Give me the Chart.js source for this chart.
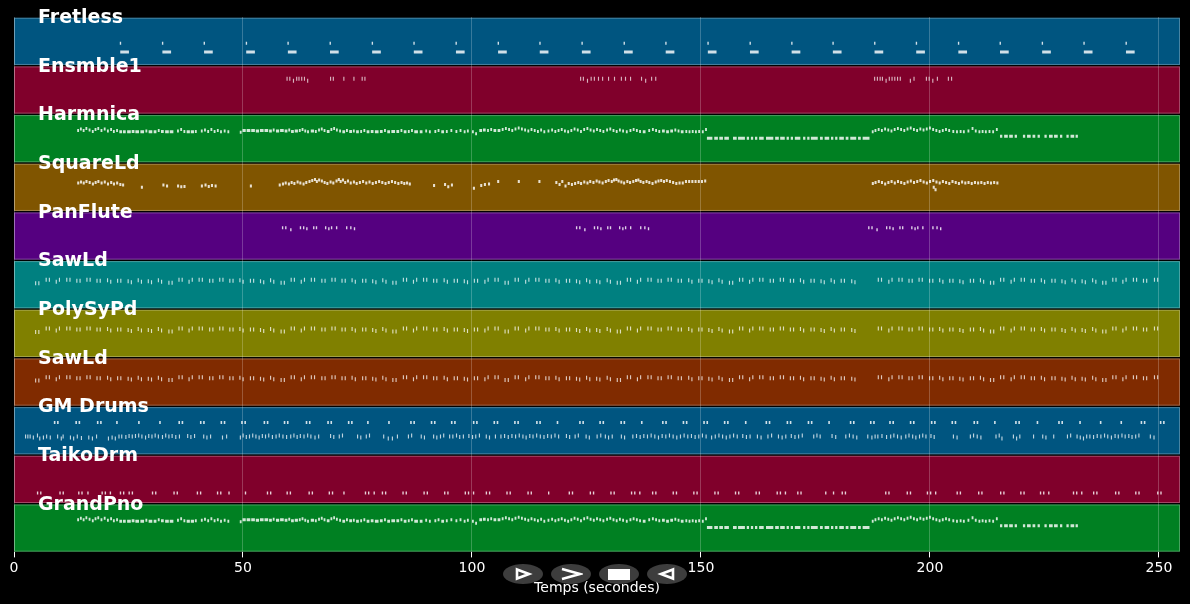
<!DOCTYPE html>
<html>
<head>
<meta charset="utf-8">
<script src="https://cdn.jsdelivr.net/npm/chart.js@4.4.1/dist/chart.umd.min.js"></script>
<style>
  html, body { margin: 0; padding: 0; background: #000; }
  #wrap { position: relative; width: 1190px; height: 604px; }
  #toolbar { position: absolute; left: 503px; top: 564px; display: flex; gap: 8px; }
  .btn { width: 40px; height: 20px; border-radius: 50%; background: rgba(66,66,66,0.92);
         display: flex; align-items: center; justify-content: center; }
</style>
</head>
<body>
<div id="wrap">
  <canvas id="rollChart" width="1190" height="604"></canvas>
  <div id="toolbar">
    <div class="btn"><svg width="20" height="14"><polygon points="4,2.5 16,7 4,11.5" fill="none" stroke="#fff" stroke-width="2.6"/></svg></div>
    <div class="btn"><svg width="24" height="14"><polyline points="3,2 21,7 3,12" fill="none" stroke="#fff" stroke-width="2.6"/></svg></div>
    <div class="btn"><svg width="22" height="12"><rect x="0" y="1" width="22" height="11" fill="#fff"/></svg></div>
    <div class="btn"><svg width="20" height="14"><polygon points="16,2.5 4,7 16,11.5" fill="none" stroke="#fff" stroke-width="2.6"/></svg></div>
  </div>
</div>
<script>
// tracks, top to bottom
var trackNames = ['Fretless', 'Ensmble1', 'Harmnica', 'SquareLd', 'PanFlute', 'SawLd', 'PolySyPd', 'SawLd', 'GM Drums', 'TaikoDrm', 'GrandPno'];
var trackColors = ['#005580', '#80002b', '#008022', '#805500', '#550080', '#008080', '#808000', '#802b00', '#005580', '#80002b', '#008022'];
var xTicks = [0, 50, 100, 150, 200, 250];
var xMax = 254.6;

// notes: [start (s), position in band (0 = top, 1 = bottom), duration (s)]
var fretlessNotes = [
  [23.1,.54,.3],[23.2,.72,1.9],[32.3,.54,.3],[32.4,.72,1.9],[41.4,.54,.3],[41.5,.72,1.9],[50.6,.54,.3],[50.7,.72,1.9],
  [59.7,.54,.3],[59.8,.72,1.9],[68.9,.54,.3],[69.0,.72,1.9],[78.1,.54,.3],[78.2,.72,1.9],[87.2,.54,.3],[87.3,.72,1.9],
  [96.4,.54,.3],[96.5,.72,1.9],[105.6,.54,.3],[105.7,.72,1.9],[114.7,.54,.3],[114.8,.72,1.9],[123.9,.54,.3],[124.0,.72,1.9],
  [133.1,.54,.3],[133.2,.72,1.9],[142.2,.54,.3],[142.3,.72,1.9],[151.4,.54,.3],[151.5,.72,1.9],[160.6,.54,.3],[160.7,.72,1.9],
  [169.7,.54,.3],[169.8,.72,1.9],[178.7,.54,.3],[178.8,.72,1.9],[187.8,.54,.3],[187.9,.72,1.9],[196.9,.54,.3],[197.0,.72,1.9],
  [206.1,.54,.3],[206.2,.72,1.9],[215.2,.54,.3],[215.3,.72,1.9],[224.4,.54,.3],[224.5,.72,1.9],[233.5,.54,.3],[233.6,.72,1.9],
  [242.7,.54,.3],[242.8,.72,1.9]
];

var ensembleNotes = [
  [59.5,.27],[60.1,.27],[60.9,.31],[61.6,.27],[62.1,.27],[62.7,.27],[63.3,.27],[64.0,.31],[69.0,.27],[69.6,.27],[71.9,.27],[74.1,.27],[75.9,.27],[76.5,.27],
  [123.6,.27],[124.2,.27],[125.1,.31],[125.9,.27],[126.6,.27],[127.5,.27],[128.4,.27],[129.7,.27],[131.0,.27],[132.5,.27],[133.4,.27],[134.5,.27],[136.9,.27],[137.8,.31],[139.1,.27],[140.0,.27],
  [187.8,.27],[188.4,.27],[189.0,.27],[189.5,.27],[190.3,.31],[191.0,.27],[191.6,.27],[192.2,.27],[192.8,.27],[193.4,.27],[195.6,.31],[196.4,.27],[199.1,.27],[199.7,.27],[200.5,.31],[201.5,.27],[203.9,.27],[204.6,.27]
];

// harmonica and grand piano play the same line
var melodyNotes = [
  [13.8,.33],[14.4,.30],[15.0,.33],[15.6,.29],[16.3,.32],[17.0,.35],[17.6,.31],[18.2,.29],[18.9,.33],[19.6,.30],[20.3,.34],[21.0,.31],[21.6,.35],[22.3,.33],
  [23.0,.36,.6],[23.8,.36,.6],[24.7,.36,.8],[25.7,.35,.6],[26.5,.36,.8],[27.6,.36,.8],[28.7,.34],[29.4,.36,.8],[30.5,.36,.6],[31.4,.33],[32.1,.35,.6],[33.0,.36,.8],[34.0,.36,.8],
  [35.6,.34],[36.3,.31],[37.0,.35],[37.7,.36,.7],[38.6,.36,.7],[39.5,.35],[40.8,.34],[41.5,.32],[42.2,.35],[42.9,.31],[43.6,.35],[44.3,.33],[45.0,.36],[45.8,.34],[46.6,.36],
  [49.3,.37],[49.9,.33,.7],[50.8,.33,.8],[51.8,.33,.8],[52.8,.34,.7],[53.7,.33,.8],[54.7,.33,.8],[55.7,.34,.6],[56.5,.32],[57.2,.34,.7],[58.1,.33,.8],[59.1,.34,.6],[59.9,.32],
  [60.5,.35,.6],[61.3,.34,.7],[62.2,.33],[62.8,.31],[63.4,.34],[64.0,.36],[64.8,.34,.7],[65.7,.35],[66.4,.32],[67.0,.30],[67.6,.33],[68.3,.35,.6],[69.1,.31],[69.7,.29],
  [70.3,.32],[71.0,.34],[71.7,.36,.6],[72.5,.33],[73.2,.35,.6],[74.0,.34],[74.7,.36,.6],[75.6,.35],[76.3,.33],[77.0,.36,.6],[77.9,.35,.6],[78.8,.36,.8],[79.9,.35,.6],
  [80.8,.33],[81.5,.36,.6],[82.4,.35,.8],[83.5,.35,.6],[84.4,.33],[85.1,.36,.6],[86.0,.35],[86.7,.33],[87.4,.36,.8],[88.6,.36,.6],[89.8,.34],[90.6,.36],[91.8,.35],
  [92.5,.33],[93.3,.36,.6],[94.3,.35],[95.3,.33],[96.4,.35],[97.3,.33],[98.2,.36],[98.9,.34],[100.0,.36],[100.7,.40],
  [101.6,.33,.6],[102.4,.32,.6],[103.3,.33],[104.0,.31],[104.7,.33,.6],[105.6,.33,.6],[106.5,.31],[107.2,.29],[107.9,.31],[108.6,.33],[109.3,.30],[110.0,.28],[110.7,.30],
  [111.4,.32],[112.1,.34],[112.8,.31],[113.5,.33],[114.2,.35],[114.9,.32],[115.6,.36],[116.5,.34],[117.3,.32],[118.0,.35],[118.7,.33],[119.4,.31],[120.1,.34],[120.8,.36],
  [121.5,.33],[122.2,.30],[122.9,.32],[123.6,.35],[124.3,.31],[125.0,.29],[125.7,.32],[126.4,.34],[127.1,.31],[127.8,.33],[128.5,.35],[129.3,.32],[130.0,.30],[130.7,.33],
  [131.4,.35],[132.1,.32],[132.8,.34],[133.6,.36],[134.4,.33],[135.1,.31],[135.8,.33],[136.5,.35],[137.3,.36,.6],[138.5,.33],[139.3,.31],[140.0,.33],[140.7,.35],
  [141.5,.34,.6],[142.4,.36,.6],[143.3,.34,.6],[144.2,.32],[144.9,.34],[145.6,.36,.6],[146.6,.35],[147.3,.36],[148.0,.35],[148.7,.36],[149.4,.35],[150.2,.36],[150.9,.31],
  [151.3,.49,1.2],[152.9,.49,.8],[154.0,.49,.8],[155.1,.49,1.0],[157.0,.49,.8],[158.1,.49,1.5],[160.0,.49,.5],[160.9,.49,.5],[161.8,.49,.5],[162.7,.49,1.0],
  [164.2,.49,1.6],[166.2,.49,.8],[167.3,.49,1.0],[168.7,.49,.5],[169.6,.49,.5],[170.5,.49,1.2],[172.3,.49,.5],[173.2,.49,.5],[174.0,.49,1.5],[176.0,.49,.6],
  [177.0,.49,1.0],[178.4,.49,.5],[179.3,.49,.5],[180.2,.49,1.0],[181.6,.49,.6],[182.6,.49,1.3],[184.3,.49,.6],[185.3,.49,1.5],
  [187.3,.36],[187.9,.33],[188.6,.31],[189.3,.33],[190.0,.30],[190.7,.32],[191.4,.34],[192.1,.31],[192.8,.29],[193.5,.31],[194.2,.33],[194.9,.30],[195.6,.28],
  [196.3,.31],[197.0,.33],[197.7,.30],[198.4,.32],[199.1,.30],[199.8,.28],[200.5,.31],[201.2,.33],[201.9,.35],[202.6,.33],[203.3,.31],[204.0,.33],[204.9,.35],
  [205.7,.36],[206.5,.35],[207.2,.36],[208.2,.34],[209.1,.29],[209.8,.34],[210.6,.36],[211.3,.35],[212.0,.36],[212.8,.35],[213.6,.36],[214.4,.31],
  [215.3,.45,.5],[216.2,.45,.8],[217.3,.45,.8],[218.5,.45,.5],[220.3,.45,.5],[221.2,.45,.8],[222.4,.45,.6],[223.5,.45,.5],[225.0,.45,.5],[226.0,.45,.8],
  [227.1,.45,.8],[228.4,.45,.5],[229.8,.45,.5],[230.7,.45,.8],[231.8,.45,.5]
];

var squareNotes = [
  [13.8,.41],[14.4,.39],[15.0,.41],[15.6,.38],[16.3,.40],[17.0,.43],[17.6,.40],[18.2,.38],[18.9,.41],[19.6,.39],[20.3,.43],[21.0,.40],[21.6,.43],[22.3,.41],[23.0,.44],[23.6,.45],
  [27.7,.50],[32.4,.45],[33.2,.47],[35.6,.47],[36.3,.49],[37.0,.48],[40.8,.47],[41.6,.45],[42.3,.48],[43.0,.46],[43.8,.47],[51.5,.47],
  [57.8,.45],[58.5,.43],[59.1,.41],[59.8,.43],[60.4,.40],[61.0,.42],[61.7,.39],[62.3,.41],[63.0,.43],[63.6,.40],[64.3,.38],[64.9,.36],[65.5,.34],[65.9,.38],[66.4,.35],
  [67.0,.37],[67.6,.40],[68.2,.42],[68.9,.39],[69.5,.41],[70.2,.37],[70.7,.34],[71.1,.38],[71.6,.35],[72.1,.40],[72.7,.37],[73.3,.41],[74.0,.39],[74.6,.42],[75.3,.40],
  [76.0,.38],[76.7,.41],[77.4,.39],[78.1,.42],[78.8,.40],[79.5,.38],[80.2,.40],[80.9,.42],[81.6,.40],[82.3,.38],[83.0,.40],[83.7,.42],[84.4,.40],[85.0,.42],[85.6,.41],[86.2,.43],
  [91.5,.46],[93.9,.44],[94.6,.49],[95.4,.45],[100.2,.52],[101.8,.46],[102.6,.44],[103.5,.43],[105.5,.38],[110.0,.38],[114.5,.38],
  [118.2,.40],[118.9,.44],[119.5,.38],[120.2,.47],[120.9,.42],[121.6,.44],
  [122.3,.42],[123.0,.40],[123.6,.42],[124.3,.39],[125.0,.41],[125.6,.38],[126.3,.40],[127.0,.37],[127.6,.39],[128.3,.41],[129.0,.38],[129.6,.36],[130.3,.38],[130.8,.35],
  [131.3,.34],[131.8,.37],[132.4,.39],[133.0,.41],[133.7,.38],[134.3,.40],[135.0,.38],[135.6,.36],[136.1,.35],[136.6,.38],[137.2,.40],[137.9,.38],[138.5,.40],[139.2,.42],
  [139.9,.39],[140.5,.37],[141.1,.36],[141.7,.38],[142.3,.36],[143.0,.38],[143.7,.40],[144.4,.42],[145.1,.41],[145.8,.41],[146.5,.38],[147.2,.38],[147.9,.38],[148.6,.38],
  [149.3,.38],[150.0,.38],[150.7,.37],
  [187.3,.42],[187.9,.40],[188.6,.38],[189.3,.40],[190.0,.43],[190.7,.40],[191.4,.38],[192.1,.41],[192.8,.38],[193.5,.40],[194.2,.42],[194.9,.39],[195.6,.37],[196.3,.40],
  [197.0,.38],[197.7,.36],[198.4,.39],[199.1,.41],[199.8,.38],[200.5,.36],[200.6,.50],[201.0,.55],[201.2,.39],[201.9,.41],[202.6,.38],[203.3,.40],[204.0,.42],[204.7,.38],
  [205.4,.40],[206.1,.42],[206.8,.39],[207.5,.41],[208.2,.40],[208.9,.42],[209.6,.40],[210.3,.41],[211.0,.40],[211.7,.42],[212.4,.40],[213.1,.41],[213.8,.40],[214.5,.41]
];

var panFluteNotes = [
  [58.5,.33],[59.2,.33],[60.3,.37],[62.4,.33],[63.1,.33],[63.8,.35],[65.3,.33],[65.9,.33],[67.9,.33],[68.6,.35],[69.2,.33],[70.3,.33],[72.5,.33],[73.4,.33],[74.2,.35],
  [122.7,.33],[123.4,.33],[124.5,.37],[126.6,.33],[127.3,.33],[128.0,.35],[129.5,.33],[130.1,.33],[132.1,.33],[132.8,.35],[133.4,.33],[134.5,.33],[136.7,.33],[137.6,.33],[138.4,.35],
  [186.5,.33],[187.2,.33],[188.3,.37],[190.4,.33],[191.1,.33],[191.8,.35],[193.3,.33],[193.9,.33],[195.9,.33],[196.6,.35],[197.2,.33],[198.3,.33],[200.5,.33],[201.4,.33],[202.2,.35]
];

// saw / pad accompaniment: [start, first note position, second note position]
var sawPairs = [
  [4.6,.47,.47],[6.9,.40,.40],[9.1,.44,.40],[11.4,.40,.40],[13.6,.42,.42],[15.8,.40,.40],[18.0,.42,.42],[20.3,.41,.44],[22.5,.42,.42],[24.8,.43,.45],
  [27.0,.41,.44],[29.2,.43,.45],[31.4,.41,.44],[33.7,.46,.46],[35.9,.40,.40],[38.1,.44,.40],[40.3,.40,.40],[42.6,.42,.42],[44.8,.40,.40],[47.0,.42,.42],
  [49.2,.41,.44],[51.5,.42,.42],[53.7,.43,.45],[55.9,.41,.44],[58.2,.46,.46],[60.4,.40,.40],[62.6,.44,.40],[64.8,.40,.40],[67.1,.42,.42],[69.3,.40,.40],
  [71.5,.42,.42],[73.7,.41,.44],[76.0,.42,.42],[78.2,.43,.45],[80.4,.41,.44],[82.6,.46,.46],[84.9,.40,.40],[87.1,.44,.40],[89.3,.40,.40],[91.5,.42,.42],
  [93.8,.41,.44],[96.0,.42,.42],[98.2,.43,.45],[100.4,.42,.42],[102.7,.44,.40],[104.9,.40,.40],[107.1,.46,.46],[109.3,.40,.40],[111.6,.44,.40],[113.8,.40,.40],
  [116.0,.42,.42],[118.2,.41,.44],[120.5,.42,.42],[122.7,.43,.45],[124.9,.41,.44],[127.1,.43,.45],[129.4,.41,.44],[131.6,.46,.46],[133.8,.40,.40],[136.0,.44,.40],
  [138.3,.40,.40],[140.5,.42,.42],[142.7,.40,.40],[144.9,.42,.42],[147.2,.41,.44],[149.4,.42,.42],[151.6,.43,.45],[153.8,.41,.44],[156.1,.46,.46],[158.3,.40,.40],
  [160.5,.44,.40],[162.7,.40,.40],[165.0,.42,.42],[167.2,.40,.40],[169.4,.42,.42],[171.6,.41,.44],[173.9,.42,.42],[176.1,.43,.45],[178.3,.41,.44],[180.5,.42,.42],
  [182.8,.43,.45],[188.6,.40,.40],[190.9,.44,.40],[193.1,.40,.40],[195.3,.42,.42],[197.5,.40,.40],[199.8,.42,.42],[202.0,.41,.44],[204.2,.42,.42],
  [206.4,.43,.45],[208.7,.42,.42],[210.9,.41,.44],[213.1,.46,.46],[215.3,.40,.40],[217.6,.44,.40],[219.8,.40,.40],[222.0,.42,.42],[224.2,.41,.44],[226.5,.42,.42],
  [228.7,.43,.45],[230.9,.41,.44],[233.1,.43,.45],[235.4,.41,.44],[237.6,.46,.46],[239.8,.40,.40],[242.0,.44,.40],[244.3,.40,.40],[246.5,.42,.42],[248.9,.40,.40]
];

// drums upper row: [start, first hit, second hit or null]
var drumHighPairs = [
  [8.7,.33,.33],[13.4,.33,.33],[18.1,.33,.33],[22.3,.33,null],[27.1,.33,null],[31.7,.33,null],[35.9,.33,.33],[40.6,.33,.33],[45.1,.33,.33],[49.6,.33,.33],
  [54.5,.33,.33],[58.9,.33,.33],[63.7,.33,.33],[68.4,.33,.33],[72.9,.33,.33],[77.1,.33,null],[81.7,.33,null],[86.5,.33,.33],[91.0,.33,.33],[95.4,.33,.33],
  [100.2,.33,.33],[104.7,.33,.33],[109.2,.33,.33],[114.0,.33,.33],[118.5,.33,null],[123.4,.33,.33],[127.8,.33,.33],[132.4,.33,.33],[136.9,.33,null],[141.5,.33,.33],
  [146.0,.33,.33],[150.5,.33,.33],[155.0,.33,.33],[159.6,.33,null],[164.1,.33,.33],[168.7,.33,.33],[173.3,.33,.33],[177.8,.33,null],[182.5,.33,.33],[186.9,.33,.33],
  [191.1,.33,.33],[195.6,.33,.33],[200.2,.33,.33],[204.7,.33,.33],[209.5,.33,.33],[214.0,.33,null],[218.6,.33,.33],[223.3,.33,null],[228.0,.33,.33],[232.6,.33,null],
  [237.1,.33,null],[241.6,.33,null],[246.0,.33,.33],[250.2,.33,.33]
];

var drumLowNotes = [
  [2.4,.62],[2.9,.62],[3.4,.62],[4.1,.64],[5.0,.60],[5.5,.66],[6.3,.64],[7.0,.62],[7.8,.64],[9.4,.62],[10.2,.66],[10.6,.62],[12.2,.64],[12.9,.66],[13.7,.62],[14.6,.65],
  [16.2,.64],[17.0,.66],[17.9,.62],[20.5,.66],[21.3,.64],[22.0,.66],[22.8,.62],[23.4,.62],[24.3,.63],[25.0,.61],[25.7,.62],[26.4,.61],[27.1,.60],[27.8,.62],[28.6,.64],
  [29.3,.61],[30.0,.62],[30.7,.60],[31.4,.62],[32.3,.63],[33.0,.60],[33.7,.62],[34.4,.61],[35.2,.63],[36.0,.62],[37.8,.61],[38.5,.63],[39.3,.61],[41.3,.62],[42.0,.64],
  [42.8,.62],[45.4,.64],[46.3,.62],[49.3,.64],[49.9,.60],[50.6,.63],[51.3,.62],[52.0,.60],[52.7,.62],[53.4,.64],[54.1,.61],[54.8,.62],[55.5,.60],[56.3,.63],[57.1,.62],
  [57.8,.60],[58.6,.62],[59.4,.63],[60.3,.62],[61.0,.60],[61.7,.63],[62.4,.61],[63.2,.62],[64.0,.60],[64.7,.62],[65.6,.64],[66.4,.62],[69.0,.61],[69.7,.63],[70.9,.62],
  [71.6,.60],[74.9,.62],[75.6,.64],[76.8,.62],[77.5,.60],[80.6,.62],[81.6,.66],[82.5,.66],[83.6,.62],[86.0,.62],[86.7,.60],[88.8,.62],[89.5,.64],[91.5,.62],[92.2,.64],
  [93.0,.62],[93.7,.60],[95.0,.62],[95.7,.62],[96.5,.60],[97.2,.63],[98.0,.62],[99.2,.61],[100.0,.63],[100.7,.62],[101.5,.60],[103.0,.62],[103.7,.64],[105.0,.62],
  [106.2,.62],[107.0,.61],[107.8,.63],[108.6,.61],[109.4,.62],[110.2,.60],[111.0,.62],[111.7,.64],[112.5,.61],[113.2,.62],[114.0,.60],[114.8,.62],[115.6,.63],[116.4,.61],
  [117.2,.62],[118.0,.60],[118.8,.62],[120.5,.61],[121.2,.63],[122.4,.62],[123.1,.60],[124.8,.62],[125.5,.64],[127.2,.62],[128.0,.60],[129.0,.62],[129.7,.64],[130.5,.62],
  [132.5,.62],[133.2,.64],[135.0,.62],[135.8,.61],[136.6,.63],[137.4,.61],[138.2,.62],[139.0,.60],[139.8,.62],[140.6,.64],[141.4,.61],[142.2,.62],[143.0,.60],[143.8,.62],
  [144.6,.64],[145.4,.62],[146.2,.60],[147.0,.62],[147.8,.61],[148.6,.63],[149.4,.62],[150.2,.60],[151.0,.62],[152.2,.64],[153.0,.62],[153.8,.60],[154.6,.62],[155.4,.64],
  [156.2,.62],[157.0,.60],[157.8,.62],[159.0,.61],[159.8,.63],[160.6,.62],[162.2,.62],[163.0,.64],[164.5,.62],[165.3,.60],[166.8,.62],[167.6,.64],[168.4,.62],[169.6,.61],
  [170.4,.63],[171.2,.62],[172.0,.60],[174.5,.62],[175.2,.60],[175.9,.62],[178.5,.61],[179.3,.63],[181.5,.62],[182.3,.60],[183.1,.62],[183.9,.64],[186.3,.62],[187.2,.64],
  [187.9,.62],[188.5,.62],[189.4,.61],[190.4,.63],[191.3,.62],[192.0,.60],[192.8,.62],[193.6,.64],[194.6,.62],[195.3,.60],[196.1,.62],[196.8,.64],[197.6,.62],[198.3,.60],
  [199.0,.62],[200.1,.61],[200.8,.63],[205.0,.62],[205.8,.64],[208.7,.62],[209.4,.60],[210.2,.62],[211.0,.64],[214.3,.62],[215.0,.60],[215.6,.66],[218.1,.62],[218.8,.66],
  [219.5,.62],[222.5,.62],[224.5,.62],[225.2,.64],[226.9,.62],[229.9,.62],[230.6,.60],[232.0,.62],[232.7,.64],[233.4,.66],[234.1,.62],[234.8,.62],[235.6,.63],[236.4,.61],
  [237.2,.62],[238.0,.60],[238.7,.62],[239.5,.64],[240.3,.61],[241.0,.62],[241.8,.60],[242.5,.62],[243.3,.61],[244.0,.63],[244.8,.62],[245.5,.60],[248.0,.62],[248.8,.64]
];

var taikoPairs = [
  [5.0,.78,.78],[9.9,.78,.78],[14.0,.78,.78],[16.0,.78,null],[19.1,.78,.78],[20.9,.78,null],[23.1,.78,.78],[25.0,.78,.78],[30.1,.78,.78],[34.8,.78,.78],
  [39.9,.78,.78],[44.3,.78,.78],[46.8,.78,null],[50.4,.78,null],[55.2,.78,.78],[59.5,.78,.78],[64.3,.78,.78],[68.7,.78,.78],[71.9,.78,null],[76.6,.78,.78],
  [78.5,.78,null],[80.3,.78,.78],[84.8,.78,.78],[89.4,.78,.78],[93.9,.78,.78],[98.4,.78,.78],[100.2,.78,null],[103.0,.78,.78],[107.5,.78,.78],[112.1,.78,.78],
  [116.6,.78,null],[121.1,.78,.78],[125.7,.78,.78],[130.2,.78,.78],[134.7,.78,.78],[136.5,.78,null],[139.3,.78,.78],[143.8,.78,.78],[148.3,.78,.78],[152.9,.78,.78],
  [157.4,.78,.78],[161.9,.78,.78],[166.5,.78,.78],[168.3,.78,null],[171.0,.78,.78],[177.1,.78,null],[178.8,.78,null],[180.7,.78,.78],[190.2,.78,.78],[194.9,.78,.78],
  [199.3,.78,.78],[201.1,.78,null],[205.8,.78,.78],[210.5,.78,.78],[215.3,.78,.78],[219.7,.78,.78],[224.0,.78,.78],[225.8,.78,null],[231.2,.78,.78],[233.0,.78,null],
  [235.6,.78,.78],[240.4,.78,.78],[244.8,.78,.78],[249.6,.78,.78]
];

// turn a note list into one broken line: each note is a short horizontal stroke
function noteLine(notes, row, dur) {
  var pts = [];
  notes.forEach(function (n) {
    var d = n[2] || dur;
    pts.push({ x: n[0], y: row + n[1] }, { x: n[0] + d, y: row + n[1] }, { x: n[0] + d, y: null });
  });
  return pts;
}

function pairLine(pairs, row, gap, dur) {
  var notes = [];
  pairs.forEach(function (p) {
    notes.push([p[0], p[1], dur]);
    if (p[2] != null) notes.push([p[0] + gap, p[2], dur]);
  });
  return noteLine(notes, row, dur);
}

function track(data, width, alpha) {
  return {
    data: data,
    borderColor: 'rgba(255,255,255,' + (alpha || 0.82) + ')',
    borderWidth: width || 3,
    pointRadius: 0,
    tension: 0,
    spanGaps: false,
    fill: false
  };
}

var datasets = [
  track(noteLine(fretlessNotes, 0, .3), 3),
  track(noteLine(ensembleNotes, 1, .25), 4, 0.7),
  track(noteLine(melodyNotes, 2, .4), 3),
  track(noteLine(squareNotes, 3, .45), 3),
  track(noteLine(panFluteNotes, 4, .3), 3),
  track(pairLine(sawPairs, 5, .7, .25), 4, 0.75),
  track(pairLine(sawPairs, 6, .7, .25), 4, 0.75),
  track(pairLine(sawPairs, 7, .7, .25), 4, 0.75),
  track(pairLine(drumHighPairs, 8, .7, .35), 3),
  track(noteLine(drumLowNotes, 8, .25), 4, 0.75),
  track(pairLine(taikoPairs, 9, .7, .3), 3),
  track(noteLine(melodyNotes, 10, .4), 3)
];

var bandPlugin = {
  id: 'bands',
  beforeDraw: function (chart) {
    var ctx = chart.ctx, area = chart.chartArea, y = chart.scales.y;
    ctx.save();
    ctx.fillStyle = '#000';
    ctx.fillRect(0, 0, chart.width, chart.height);
    trackNames.forEach(function (name, i) {
      var top = y.getPixelForValue(i + 0.015);
      var bot = y.getPixelForValue(i + 0.985);
      ctx.fillStyle = trackColors[i];
      ctx.fillRect(area.left, top, area.right - area.left, bot - top);
      ctx.strokeStyle = 'rgba(255,255,255,0.28)';
      ctx.lineWidth = 1;
      ctx.strokeRect(area.left + 0.5, top + 0.5, area.right - area.left - 1, bot - top - 1);
    });
    ctx.restore();
  },
  afterDatasetsDraw: function (chart) {
    var ctx = chart.ctx, area = chart.chartArea, y = chart.scales.y;
    ctx.save();
    ctx.font = 'bold 19px "DejaVu Sans"';
    ctx.fillStyle = '#fff';
    ctx.textBaseline = 'middle';
    trackNames.forEach(function (name, i) {
      ctx.fillText(name, area.left + 24, y.getPixelForValue(i) + 1);
    });
    ctx.restore();
  }
};

var ctx = document.getElementById('rollChart').getContext('2d');
var rollChart = new Chart(ctx, {
  type: 'line',
  data: { datasets: datasets },
  options: {
    responsive: false,
    animation: false,
    events: [],
    layout: { padding: { left: 14, right: 10, top: 17, bottom: 0 } },
    plugins: { legend: { display: false }, tooltip: { enabled: false } },
    scales: {
      x: {
        type: 'linear',
        min: 0,
        max: xMax,
        afterBuildTicks: function (scale) {
          scale.ticks = xTicks.map(function (v) { return { value: v }; });
        },
        grid: { color: 'rgba(255,255,255,0.22)', tickColor: '#fff', tickLength: 5 },
        border: { display: false },
        ticks: { color: '#fff', font: { family: 'DejaVu Sans', size: 14 }, padding: 3, maxRotation: 0 },
        title: { display: true, text: 'Temps (secondes)', color: '#fff',
                 font: { family: 'DejaVu Sans', size: 14 }, padding: { top: 0, bottom: 7 } }
      },
      y: { type: 'linear', min: 0, max: 11, reverse: true, display: false }
    }
  },
  plugins: [bandPlugin]
});
</script>
</body>
</html>
